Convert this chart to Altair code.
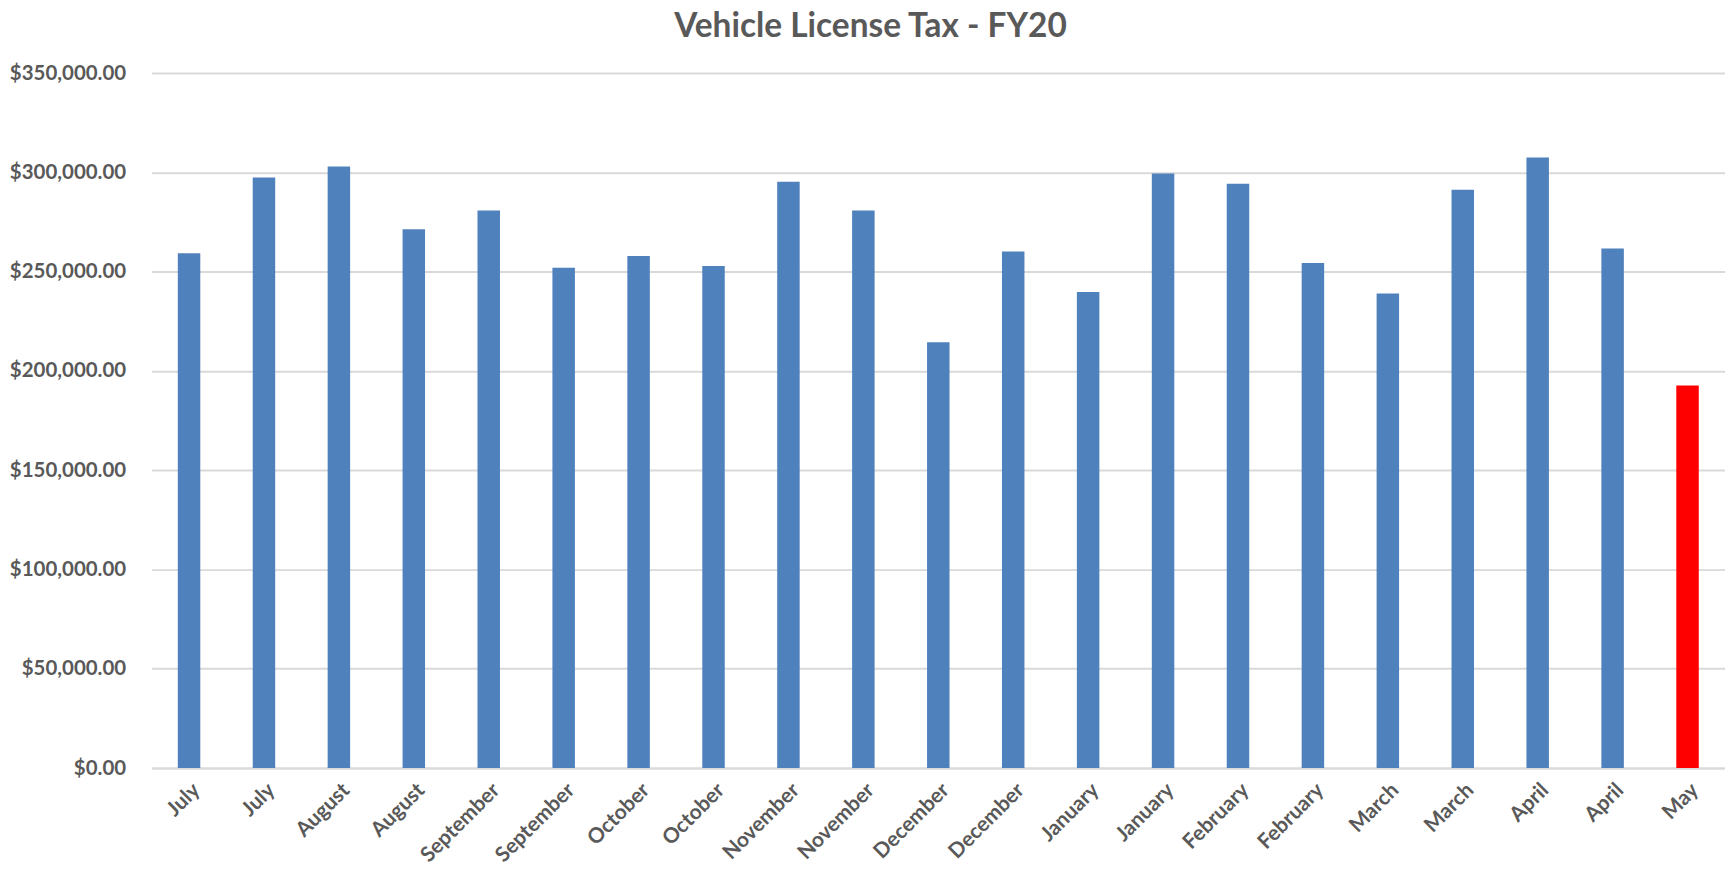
import altair as alt
import pandas as pd

months = ["July", "July", "August", "August", "September", "September",
          "October", "October", "November", "November", "December", "December",
          "January", "January", "February", "February", "March", "March",
          "April", "April", "May"]
values = [259200, 297400, 302900, 271400, 280800, 251900,
          257900, 252900, 295300, 280800, 214400, 260200,
          239800, 299400, 294300, 254400, 239000, 291300,
          307500, 261700, 192700]
y_ticks = [0, 50000, 100000, 150000, 200000, 250000, 300000, 350000]

df = pd.DataFrame({
    "key": [f"{m}_{i}" for i, m in enumerate(months)],
    "value": values,
    "current": [i == len(months) - 1 for i in range(len(months))],
})

TEXT = "#595959"
FONT = "Lato"

chart = alt.Chart(df).mark_bar().encode(
    x=alt.X("key:N", sort=None, title=None,
            scale=alt.Scale(paddingInner=0.7, paddingOuter=0.35),
            axis=alt.Axis(labelExpr="split(datum.label, '_')[0]", labelAngle=-45,
                          labelFont=FONT, labelFontSize=21, labelFontWeight="bold",
                          labelColor=TEXT, ticks=False, domain=True,
                          domainColor="#D9D9D9", domainWidth=2, labelPadding=11)),
    y=alt.Y("value:Q", title=None,
            scale=alt.Scale(domain=[0, 350000], nice=False),
            axis=alt.Axis(values=y_ticks, format="$,.2f", ticks=False, domain=False,
                          labelFont=FONT, labelFontSize=20.5, labelFontWeight="bold",
                          labelColor=TEXT, labelPadding=26,
                          gridColor="#D9D9D9", gridWidth=2)),
    color=alt.condition(alt.datum.current, alt.value("#FF0000"), alt.value("#4F81BD")),
).properties(
    width=1578,
    height=697,
    title=alt.TitleParams("Vehicle License Tax - FY20", font=FONT, fontSize=33.5,
                          fontWeight="bold", color=TEXT, dx=-68, offset=19),
    autosize=alt.AutoSizeParams(type="none"),
    padding={"left": 144, "top": 64, "right": 0, "bottom": 105},
).configure_view(stroke=None)

chart.save("out.html", embed_options={"renderer": "svg", "actions": False})
